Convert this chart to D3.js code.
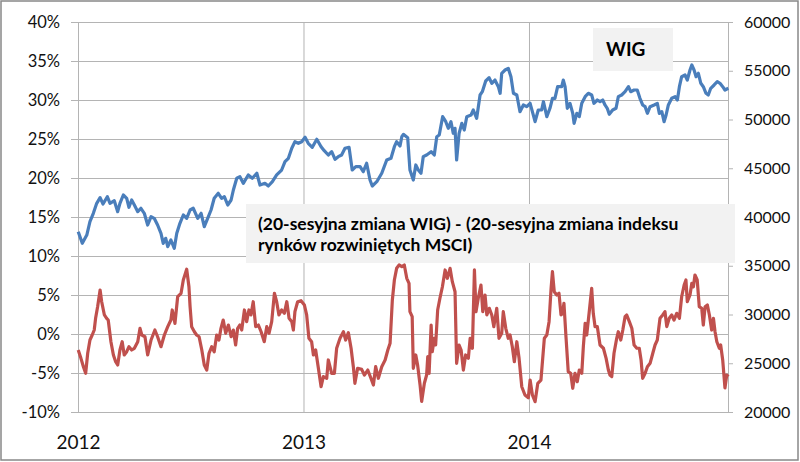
<!DOCTYPE html>
<html>
<head>
<meta charset="utf-8">
<script src="https://cdn.jsdelivr.net/npm/d3@7/dist/d3.min.js"></script>
<style>
  html, body { margin: 0; padding: 0; background: #fff; }
  svg { display: block; font-family: Lato, "Open Sans", sans-serif; }
</style>
</head>
<body>
<svg id="chart" width="800" height="462"></svg>
<script>
// ---- Data (time as decimal year) ----
const wigTime = [2012.001,2012.019,2012.039,2012.053,2012.068,2012.083,2012.098,2012.111,2012.130,2012.142,2012.161,2012.176,2012.186,2012.201,2012.216,2012.226,2012.238,2012.250,2012.265,2012.279,2012.294,2012.309,2012.324,2012.338,2012.353,2012.368,2012.378,2012.389,2012.398,2012.412,2012.427,2012.438,2012.452,2012.467,2012.482,2012.497,2012.511,2012.531,2012.546,2012.560,2012.575,2012.590,2012.604,2012.622,2012.637,2012.649,2012.664,2012.679,2012.689,2012.704,2012.718,2012.733,2012.755,2012.773,2012.793,2012.807,2012.829,2012.844,2012.862,2012.881,2012.903,2012.918,2012.933,2012.948,2012.962,2012.977,2012.992,2013.007,2013.021,2013.039,2013.059,2013.078,2013.092,2013.110,2013.125,2013.140,2013.154,2013.169,2013.184,2013.202,2013.216,2013.232,2013.251,2013.265,2013.280,2013.295,2013.305,2013.325,2013.347,2013.369,2013.388,2013.403,2013.413,2013.428,2013.436,2013.443,2013.462,2013.472,2013.487,2013.498,2013.509,2013.521,2013.531,2013.546,2013.566,2013.580,2013.591,2013.602,2013.617,2013.631,2013.642,2013.654,2013.664,2013.672,2013.679,2013.690,2013.702,2013.713,2013.724,2013.743,2013.753,2013.768,2013.783,2013.793,2013.808,2013.823,2013.835,2013.849,2013.864,2013.872,2013.879,2013.894,2013.908,2013.920,2013.931,2013.946,2013.960,2013.975,2013.990,2014.005,2014.015,2014.027,2014.041,2014.056,2014.064,2014.079,2014.093,2014.104,2014.115,2014.127,2014.145,2014.152,2014.160,2014.170,2014.182,2014.194,2014.200,2014.212,2014.223,2014.234,2014.249,2014.263,2014.278,2014.288,2014.303,2014.315,2014.327,2014.337,2014.347,2014.356,2014.371,2014.386,2014.396,2014.411,2014.426,2014.441,2014.451,2014.466,2014.480,2014.492,2014.504,2014.515,2014.525,2014.537,2014.555,2014.569,2014.578,2014.589,2014.599,2014.608,2014.618,2014.633,2014.648,2014.658,2014.667,2014.677,2014.692,2014.702,2014.714,2014.722,2014.732,2014.741,2014.751,2014.762,2014.773,2014.785,2014.795,2014.806,2014.821,2014.835,2014.847,2014.859,2014.869,2014.884];
const wigValue = [38490,37300,38150,39520,40380,41405,41980,41335,42080,41405,41670,40545,41405,42255,41920,40995,41745,41230,40545,40895,40380,39180,40030,39865,39180,38330,37300,37815,36955,37640,36790,38330,39355,40205,39865,40720,40895,39865,40380,39005,39865,40720,41920,42430,41920,42080,41230,41745,42770,43970,44135,43455,44310,43970,44485,43280,43455,43180,43620,44310,44820,45670,46020,47045,47725,47560,47725,48175,47560,47150,47970,47210,46800,46360,46700,45920,46185,46360,47045,47150,44820,45160,45160,44645,45510,43795,43180,43620,44485,45845,46020,47210,47725,47280,48235,48480,48135,44820,43795,45335,44820,44485,46185,46360,46700,46360,48235,48410,50290,49775,49100,49775,48585,49100,45845,48585,49610,48925,50290,50460,50975,50125,52515,52850,53950,54285,53715,54050,53365,52690,54740,55075,55250,54390,52690,52515,50800,51490,51315,51660,50800,49775,50975,50975,51825,50290,51150,52175,52175,53365,53365,54050,53365,51150,51660,50635,49610,50635,50290,51660,52340,52690,52515,51660,52000,51825,52000,51490,51150,50535,50975,51150,52340,52515,52850,53365,52850,53025,53025,52175,51490,51315,50635,51315,51490,51660,50635,50800,49775,50460,51490,52175,52340,52000,53365,54390,54565,54050,55075,55590,55075,54390,54740,53715,53365,52690,52515,53200,53540,53875,53715,53365,53025,53200];

const diffTime = [2012.001,2012.013,2012.024,2012.034,2012.043,2012.053,2012.063,2012.072,2012.078,2012.087,2012.098,2012.105,2012.117,2012.127,2012.134,2012.146,2012.157,2012.167,2012.176,2012.186,2012.196,2012.205,2012.216,2012.226,2012.238,2012.250,2012.265,2012.275,2012.283,2012.297,2012.309,2012.324,2012.341,2012.353,2012.368,2012.383,2012.398,2012.412,2012.418,2012.430,2012.442,2012.457,2012.467,2012.482,2012.492,2012.497,2012.504,2012.516,2012.526,2012.537,2012.549,2012.560,2012.571,2012.581,2012.593,2012.604,2012.615,2012.625,2012.634,2012.644,2012.655,2012.667,2012.679,2012.689,2012.699,2012.708,2012.718,2012.726,2012.738,2012.748,2012.758,2012.767,2012.777,2012.788,2012.800,2012.812,2012.826,2012.837,2012.847,2012.859,2012.871,2012.881,2012.891,2012.903,2012.915,2012.926,2012.936,2012.948,2012.955,2012.962,2012.974,2012.989,2013.004,2013.014,2013.024,2013.036,2013.044,2013.054,2013.066,2013.078,2013.088,2013.103,2013.110,2013.125,2013.137,2013.147,2013.162,2013.177,2013.187,2013.199,2013.211,2013.221,2013.228,2013.240,2013.258,2013.270,2013.285,2013.299,2013.310,2013.320,2013.332,2013.347,2013.362,2013.374,2013.384,2013.394,2013.403,2013.413,2013.424,2013.436,2013.447,2013.458,2013.468,2013.472,2013.482,2013.487,2013.498,2013.506,2013.517,2013.524,2013.536,2013.546,2013.551,2013.557,2013.566,2013.571,2013.580,2013.586,2013.595,2013.605,2013.616,2013.628,2013.638,2013.650,2013.660,2013.672,2013.679,2013.690,2013.699,2013.709,2013.719,2013.731,2013.739,2013.749,2013.758,2013.765,2013.775,2013.787,2013.795,2013.805,2013.813,2013.824,2013.835,2013.844,2013.857,2013.867,2013.879,2013.886,2013.897,2013.908,2013.916,2013.926,2013.935,2013.946,2013.956,2013.968,2013.982,2013.997,2014.005,2014.015,2014.027,2014.039,2014.053,2014.068,2014.079,2014.089,2014.098,2014.104,2014.112,2014.123,2014.133,2014.142,2014.149,2014.155,2014.164,2014.174,2014.185,2014.194,2014.204,2014.214,2014.223,2014.234,2014.241,2014.249,2014.256,2014.268,2014.278,2014.285,2014.293,2014.303,2014.315,2014.330,2014.342,2014.352,2014.359,2014.367,2014.377,2014.389,2014.396,2014.407,2014.416,2014.426,2014.433,2014.445,2014.456,2014.466,2014.478,2014.489,2014.497,2014.504,2014.515,2014.525,2014.537,2014.549,2014.559,2014.569,2014.581,2014.593,2014.603,2014.611,2014.622,2014.633,2014.643,2014.655,2014.667,2014.677,2014.688,2014.696,2014.702,2014.714,2014.722,2014.729,2014.736,2014.746,2014.755,2014.766,2014.773,2014.781,2014.791,2014.800,2014.810,2014.818,2014.825,2014.833,2014.844,2014.850,2014.859,2014.869,2014.877,2014.884];
const diffValue = [-2.05,-3.12,-4.19,-5.04,-2.47,-0.77,-0.13,0.51,2.01,3.50,5.64,4.14,2.44,2.01,1.79,-0.99,-2.69,-3.55,-3.97,-2.05,-0.99,-2.69,-2.27,-1.63,-2.05,-1.83,-0.99,0.73,-0.13,-0.35,-2.69,-0.77,0.51,-0.35,-1.63,-0.13,0.94,1.79,3.08,1.37,4.78,5.22,6.92,8.30,6.06,3.50,0.94,0.29,-0.13,-0.35,-2.05,-3.97,-4.62,-2.47,-1.63,-2.27,-0.13,-0.77,0.73,1.79,0.09,1.15,-0.35,0.51,-1.41,0.73,1.15,0.51,3.08,1.58,3.08,2.44,4.14,0.94,1.15,0.29,-0.99,0.94,0.09,1.58,5.22,4.14,2.44,3.08,2.65,4.14,2.01,1.58,0.51,2.86,4.14,4.27,3.72,2.44,-0.55,-0.99,-2.69,-2.05,-4.40,-6.76,-5.47,-5.68,-3.33,-5.04,-5.04,-1.83,-0.55,0.29,-0.77,0.17,-1.83,-4.19,-6.32,-4.40,-4.53,-5.26,-4.62,-5.68,-6.54,-4.19,-5.68,-4.19,-3.33,-2.05,-1.19,4.36,6.92,8.42,8.85,8.63,8.85,7.14,6.50,2.86,2.22,-4.40,-2.69,-3.97,-6.54,-8.65,-6.32,-5.26,-2.91,-5.04,1.15,-2.27,-0.55,-1.41,3.08,4.58,6.06,8.21,7.14,8.42,6.71,5.42,-3.76,-1.41,-2.05,-4.62,-2.69,-3.12,-0.55,-1.83,8.21,2.86,4.58,6.28,2.86,5.00,2.44,3.29,2.44,0.94,3.29,-0.55,0.09,2.86,0.73,-0.55,-0.13,-1.63,-3.55,-0.99,-3.12,-6.76,-7.82,-8.17,-5.90,-7.82,-8.68,-6.32,-5.90,-0.55,-0.13,1.58,5.86,7.99,5.42,5.00,5.22,2.44,2.65,3.94,-0.35,-4.83,-5.04,-6.96,-5.04,-6.12,-4.62,-5.04,-1.63,1.37,-0.13,3.08,5.86,2.65,0.94,0.94,-1.41,-1.83,-3.12,-4.62,-5.26,-5.47,-2.47,-0.55,0.29,-0.77,0.51,2.22,2.44,1.58,0.73,-1.41,-1.83,-1.83,-3.33,-5.68,-5.04,-4.19,-3.76,-2.47,-1.41,-0.77,2.01,2.44,2.86,0.94,2.01,2.44,1.79,2.65,2.01,4.78,6.28,6.92,4.14,5.00,6.50,6.06,7.56,6.92,3.50,3.29,1.15,3.50,3.72,2.44,0.51,2.01,0.29,-0.99,-1.83,-1.41,-3.33,-6.92,-5.26,-5.47];

const leftTicks = [-10, -5, 0, 5, 10, 15, 20, 25, 30, 35, 40];
const rightTicks = [20000, 25000, 30000, 35000, 40000, 45000, 50000, 55000, 60000];
const yearTicks = [2012, 2013, 2014];
const wigLabel = "WIG";
const diffLabelLines = ["(20-sesyjna zmiana WIG) - (20-sesyjna zmiana indeksu", "rynków rozwiniętych MSCI)"];

// ---- Layout ----
const svg = d3.select("#chart");
const M = { left: 78, right: 728, top: 22, bottom: 412 };
const gridColor = "#b4b4b4";

const x = d3.scaleLinear().domain([2012, 2014.8825]).range([M.left, M.right]);
const yL = d3.scaleLinear().domain([-10, 40]).range([M.bottom, M.top]);
const yR = d3.scaleLinear().domain([20000, 60000]).range([M.bottom, M.top]);

// outer frame
svg.append("rect").attr("x", 1).attr("y", 1).attr("width", 797).attr("height", 459)
  .attr("fill", "#fff").attr("stroke", "#888").attr("stroke-width", 1.5);

// horizontal gridlines (from left axis)
const gL = svg.append("g").attr("transform", `translate(${M.left},0)`)
  .call(d3.axisLeft(yL).tickValues(leftTicks).tickSize(7).tickPadding(11).tickFormat(d => d + "%"));
gL.select(".domain").attr("stroke", gridColor);
gL.selectAll(".tick line").attr("stroke", gridColor).attr("x1", M.right - M.left);
gL.selectAll(".tick text").attr("font-size", 16.5).attr("fill", "#111").attr("font-family", "Lato, sans-serif");

// right axis
const gR = svg.append("g").attr("transform", `translate(${M.right},0)`)
  .call(d3.axisRight(yR).tickValues(rightTicks).tickSize(5).tickPadding(11).tickFormat(d3.format("d")));
gR.select(".domain").attr("stroke", gridColor);
gR.selectAll(".tick line").attr("stroke", gridColor);
gR.selectAll(".tick text").attr("font-size", 16).attr("fill", "#111").attr("font-family", "Lato, sans-serif");

// bottom axis with vertical gridlines
const gB = svg.append("g").attr("transform", `translate(0,${M.bottom})`)
  .call(d3.axisBottom(x).tickValues(yearTicks).tickSize(0).tickPadding(24).tickFormat(d3.format("d")));
gB.select(".domain").attr("stroke", gridColor);
gB.selectAll(".tick line").attr("stroke", gridColor).attr("y2", M.top - M.bottom);
gB.selectAll(".tick text").attr("font-size", 19).attr("fill", "#111").attr("font-family", "Lato, sans-serif");

// lines
const wigData = wigTime.map((t, i) => [t, wigValue[i]]);
const diffData = diffTime.map((t, i) => [t, diffValue[i]]);

svg.append("path").datum(diffData)
  .attr("fill", "none").attr("stroke", "#C0504D").attr("stroke-width", 3.2)
  .attr("stroke-linejoin", "round")
  .attr("d", d3.line().x(d => x(d[0])).y(d => yL(d[1])));

svg.append("path").datum(wigData)
  .attr("fill", "none").attr("stroke", "#4A7EBB").attr("stroke-width", 3.2)
  .attr("stroke-linejoin", "round")
  .attr("d", d3.line().x(d => x(d[0])).y(d => yR(d[1])));

// annotation boxes
svg.append("rect").attr("x", 593).attr("y", 28).attr("width", 80).attr("height", 43).attr("fill", "#f2f2f2");
svg.append("text").attr("x", 606).attr("y", 56).attr("font-size", 19).attr("font-weight", "bold")
  .attr("fill", "#000").text(wigLabel);

svg.append("rect").attr("x", 246).attr("y", 204).attr("width", 489).attr("height", 59).attr("fill", "#f2f2f2");
svg.selectAll("text.diffLabel").data(diffLabelLines).join("text")
  .attr("class", "diffLabel")
  .attr("x", 258).attr("y", (d, i) => 230 + i * 21)
  .attr("font-size", 17.5).attr("font-weight", "bold").attr("fill", "#000")
  .text(d => d);
</script>
</body>
</html>
